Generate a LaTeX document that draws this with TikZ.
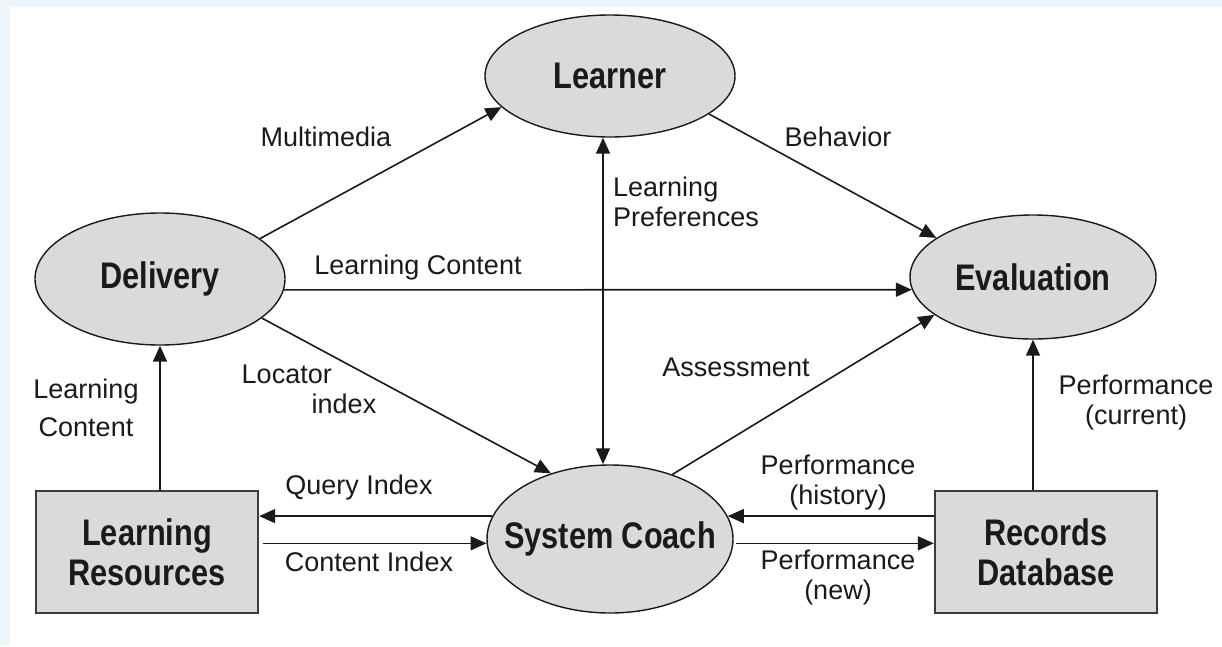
\documentclass[tikz,border=0pt]{standalone}
\usepackage{fontspec}
\setmainfont{Liberation Sans}
\newfontfamily\nodefont{Liberation Sans}[FakeStretch=0.83]
\usetikzlibrary{shapes.geometric,arrows.meta}
\definecolor{bgblue}{HTML}{EEF6FC}
\definecolor{boxgray}{HTML}{DADADA}
\definecolor{ink}{HTML}{1A1A1A}
\begin{document}
\begin{tikzpicture}[x=1pt,y=-1pt,
  oval/.style={ellipse, draw=ink, line width=1.4pt, fill=boxgray, inner sep=0pt,
    font=\nodefont\bfseries\fontsize{37}{40}\selectfont, text=ink},
  store/.style={rectangle, draw=ink!85, line width=2.4pt, fill=boxgray,
    minimum width=222pt, minimum height=122pt, align=center, inner sep=0pt,
    font=\nodefont\bfseries\fontsize{37}{40}\selectfont, text=ink},
  conn/.style={line width=1.6pt, draw=ink},
  arr/.style={conn, -{Triangle[length=16pt,width=14pt]}},
  biarr/.style={conn, {Triangle[length=16pt,width=14pt]}-{Triangle[length=16pt,width=14pt]}},
  lbl/.style={font=\fontsize{27}{30}\selectfont, text=ink, inner sep=0pt, align=center}]
\fill[bgblue] (0,0) rectangle (1222,646);
\fill[white] (10,7) rectangle (1222,646);
\useasboundingbox (0,0) rectangle (1222,646);

% nodes
\node[oval, minimum width=250pt, minimum height=122pt] (learner) at (610,76) {\makebox[0pt]{Learner}};
\node[oval, minimum width=250pt, minimum height=132pt] (deliv) at (160,279) {\makebox[0pt]{Delivery}};
\node[oval, minimum width=246pt, minimum height=124pt] (eval) at (1033,277) {\makebox[0pt]{Evaluation}};
\node[oval, minimum width=246pt, minimum height=148pt] (coach) at (610,539) {\makebox[0pt]{System Coach}};
\node[store] (lr) at (147,552) {Learning\\Resources};
\node[store] (rd) at (1046,552) {Records\\Database};

% connectors
\draw[arr] (deliv.22) -- (learner.196);
\draw[arr] (learner.-21) -- (eval.158);
\draw[arr] (deliv.-5) -- (eval.186);
\draw[arr] (deliv.-21) -- (coach.132);
\draw[arr] (coach.46) -- (eval.201);
\draw[biarr] ([xshift=-7pt]coach.north) -- ([xshift=-7pt]learner.south);
\draw[arr] (lr.north -| deliv.south) -- (deliv.south);
\draw[arr] (rd.north -| eval.south) -- (eval.south);
\draw[arr] (coach.169) -- (coach.169 -| lr.east);
\draw[arr] ([xshift=4pt]lr.east |- coach.182) -- (coach.182);
\draw[arr] (rd.west |- coach.11) -- (coach.11);
\draw[arr] ([xshift=3pt]coach.-2) -- (coach.-2 -| rd.west);

% labels
\node[lbl] (lmm) at (326,137) {Multimedia};
\node[lbl] (lbeh) at (838,137) {Behavior};
\node[lbl, anchor=west, align=left] (lpref) at (613,202) {Learning\\Preferences};
\node[lbl] (llc) at (418,268) {Learning Content};
\node[lbl, align=left] (lloc) at (309,389) {Locator\\\hspace*{70pt}index};
\node[lbl] (lass) at (736,367) {Assessment};
\node[lbl, font=\fontsize{27}{38}\selectfont] (llc2) at (86,408) {Learning\\Content};
\node[lbl] (lperfc) at (1136,403) {Performance\\(current)};
\node[lbl] (lqi) at (359,488) {Query Index};
\node[lbl] (lci) at (369,562) {Content Index};
\node[lbl] (lph) at (838,483) {Performance\\(history)};
\node[lbl] (lpn) at (838,578) {Performance\\(new)};
\end{tikzpicture}
\end{document}
